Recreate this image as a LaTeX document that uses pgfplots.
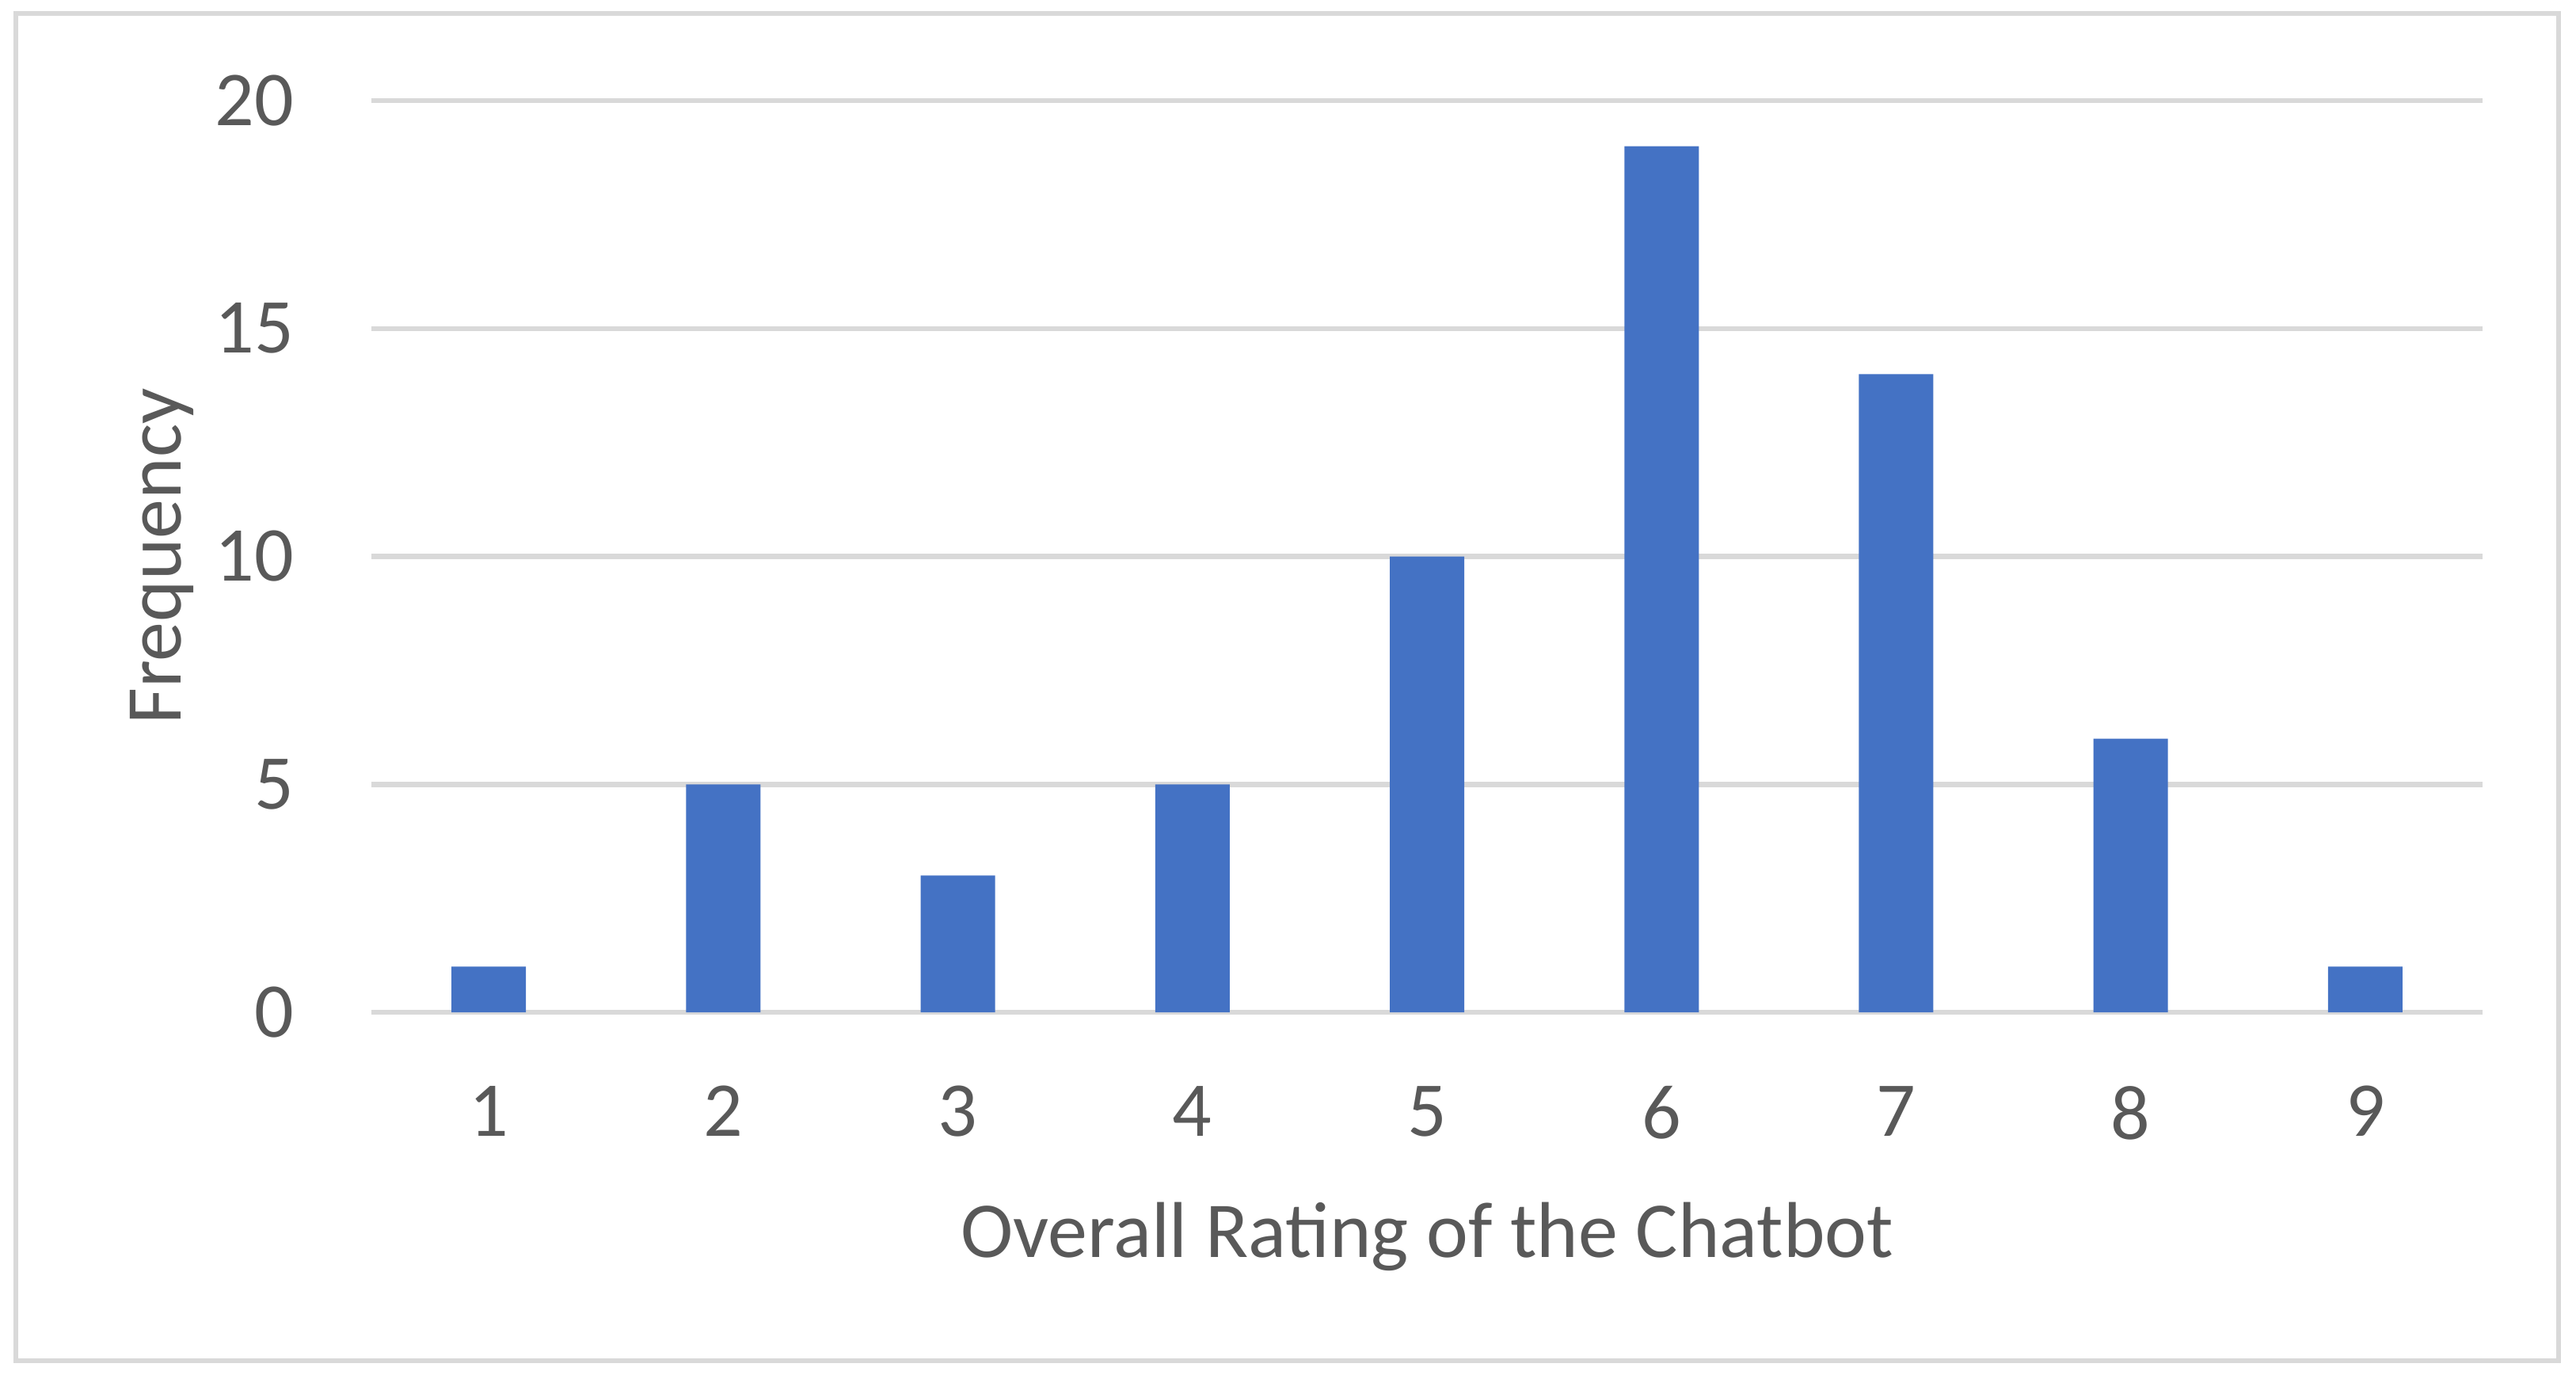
\documentclass[border=0pt]{standalone}
\usepackage{fontspec}
\setmainfont{Carlito}
\usepackage{pgfplots}
\pgfplotsset{compat=1.18}

\definecolor{barblue}{HTML}{4472C4}
\definecolor{gridgray}{HTML}{D9D9D9}
\definecolor{textgray}{HTML}{595959}

\begin{document}
\begin{tikzpicture}[font=\fontsize{9.8}{11.8}\selectfont]
% page size and outer chart frame
\path[use as bounding box] (-46.9pt,-45.7pt) rectangle (278.4pt,127.8pt);
\draw[gridgray, line width=0.65pt] (-44.9pt,-44.0pt) rectangle (276.2pt,126.1pt);
\begin{axis}[
    at={(0,0)}, anchor=origin,
    scale only axis,
    width=266.6pt, height=115.1pt,
    ybar, bar width=9.4pt,
    xmin=0.5, xmax=9.5,
    ymin=0, ymax=20,
    xtick={1,...,9},
    ytick={0,5,...,20},
    axis line style={draw=none},
    major tick length=0pt,
    ymajorgrids,
    grid style={gridgray, line width=0.65pt},
    tick label style={textgray},
    /pgf/number format/assume math mode=true,
    xticklabel style={yshift=-5.8pt},
    yticklabel style={xshift=-6.3pt},
    xlabel={Overall Rating of the Chatbot},
    ylabel={Frequency},
    label style={textgray, font=\fontsize{10}{12}\selectfont},
    xlabel style={at={(axis description cs:0.5,-0.2685)}, anchor=base},
    ylabel style={at={(axis description cs:-0.0904,0.5)}, anchor=base},
]
\addplot[fill=barblue, draw=none] coordinates {
    (1,1) (2,5) (3,3) (4,5) (5,10) (6,19) (7,14) (8,6) (9,1)
};
\end{axis}
\end{tikzpicture}
\end{document}
